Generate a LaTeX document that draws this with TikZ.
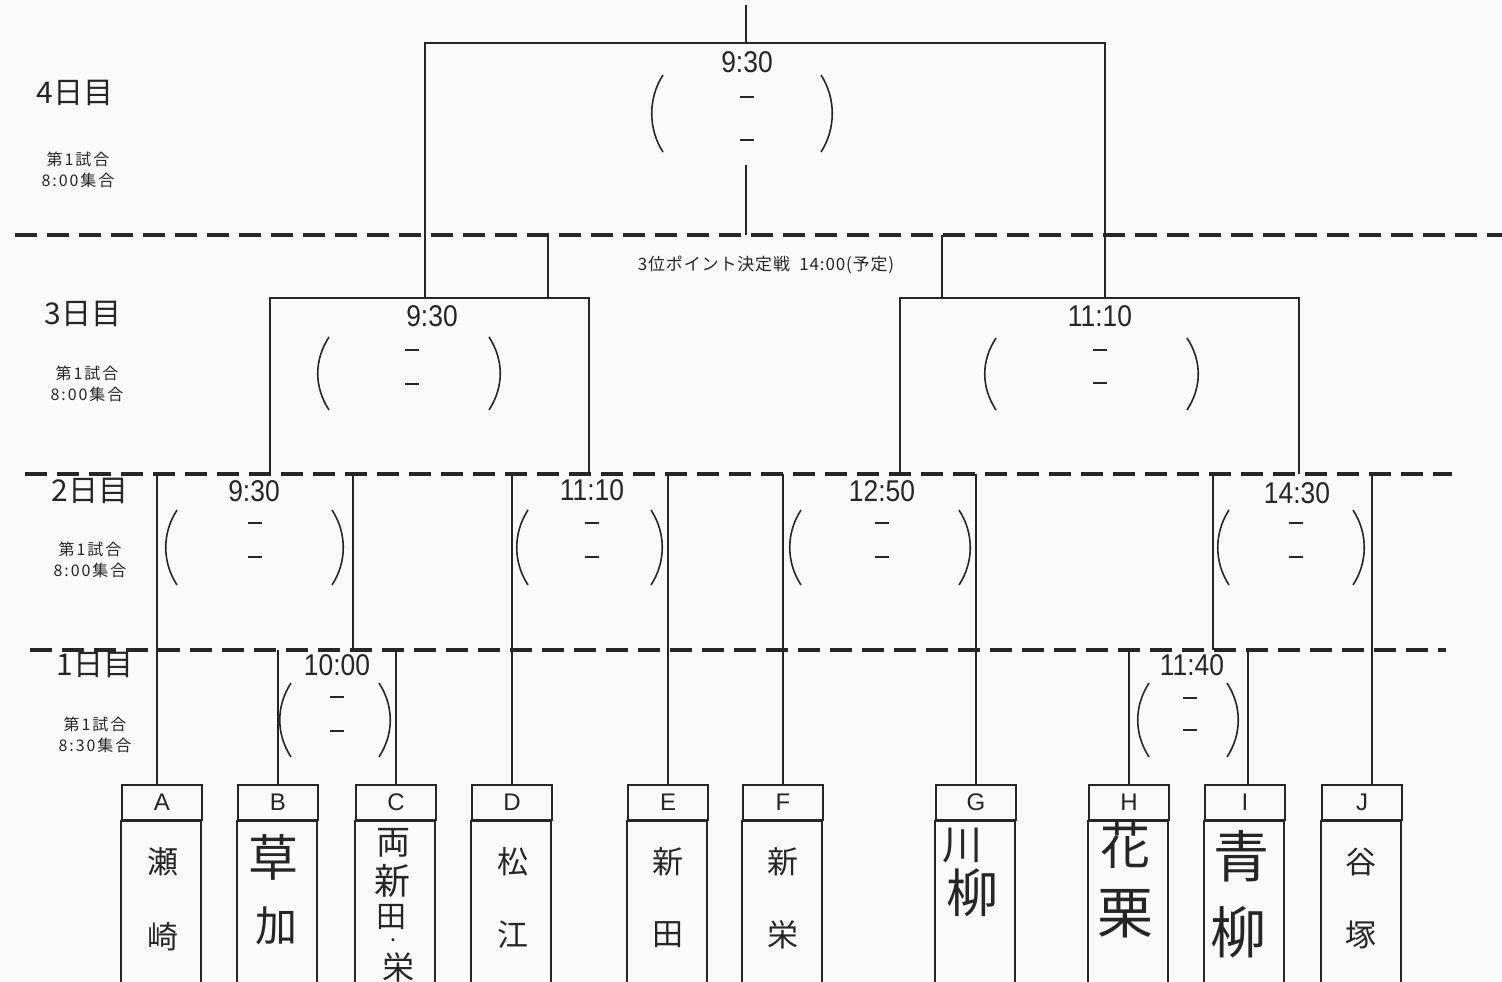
\documentclass[tikz,border=0pt]{standalone}
\usepackage{fontspec}
\setmainfont{Liberation Sans}
\newfontfamily\jp{Noto Sans CJK JP}
\newfontfamily\jpw[LetterSpace=12]{Noto Sans CJK JP}
\newfontfamily\jpt[LetterSpace=5]{Noto Sans CJK JP}
\newfontfamily\tf[FakeStretch=0.88]{Liberation Sans}
\newcommand\scorepair[7]{%
  \draw[pl] ({#2+11},#4) .. controls ({#2-4},{#4+23}) and ({#2-4},{#5-23}) .. ({#2+11},#5);
  \draw[pl] ({#3-11},#4) .. controls ({#3+4},{#4+23}) and ({#3+4},{#5-23}) .. ({#3-11},#5);
  \draw[pl] ({#1-7},#6) -- ({#1+7},#6);
  \draw[pl] ({#1-7},#7) -- ({#1+7},#7);}
\tikzset{
  ln/.style={line width=1.8pt, black!85},
  pl/.style={line width=1.6pt, black!85},
  dl/.style={line width=4.5pt, dash pattern=on 22pt off 10pt, black!85},
  hdr/.style={draw, line width=1.8pt, black!85, text=black!85, minimum width=80pt, minimum height=35pt, inner sep=0pt, font=\fontsize{24}{24}\selectfont},
  tm/.style={font=\tf\fontsize{30}{30}\selectfont, inner sep=0pt, text=black!85},
  day/.style={font=\jp\fontsize{30}{30}\selectfont, inner sep=0pt, text=black!85},
  sub/.style={font=\jpw\fontsize{16}{21}\selectfont, align=center, inner sep=0pt, text=black!85},
  nm/.style={font=\jp\fontsize{31}{31}\selectfont, inner sep=0pt, text=black!85},
  hw/.style={font=\jp\fontsize{#1}{#1}\selectfont, inner sep=0pt, text=black!85},
}
\begin{document}
\begin{tikzpicture}[x=1pt,y=-1pt]
\useasboundingbox[fill=black!2] (0,0) rectangle (1502,982);

% day labels
\node[day] (d4) at (75,93) {4日目};
\node[sub] (s4) at (78,170) {第1試合\\8:00集合};
\node[day] (d3) at (83,314) {3日目};
\node[sub] (s3) at (87,384) {第1試合\\8:00集合};
\node[day] (d2) at (90,491) {2日目};
\node[sub] (s2) at (90,560) {第1試合\\8:00集合};
\node[day] (d1) at (95,665) {1日目};
\node[sub] (s1) at (95,735) {第1試合\\8:30集合};

% team boxes
\foreach \n/\x in {A/162,B/278,C/396,D/512,E/668,F/783,G/976,H/1129,I/1245,J/1362}{
  \node[hdr] (\n) at (\x,802.5) {\n};
  \draw[ln] (\n.south west) rectangle ++(80,180);
}
% names
\node[nm] (nA1) at (163,862) {瀬};
\node[nm] (nA2) at (163,937) {崎};
\node[hw=50] (nB1) at (273,857) {草};
\node[hw=42] (nB2) at (276,926) {加};
\node[hw=34] (nC1) at (393,843) {両};
\node[hw=36] (nC2) at (392,881) {新};
\node[hw=30] (nC3) at (391,917) {田};
\node[hw=14] (nC4) at (393,942) {・};
\node[hw=32] (nC5) at (398,967) {栄};
\node[nm] (nD1) at (513,862) {松};
\node[nm] (nD2) at (513,935) {江};
\node[nm] (nE1) at (668,862) {新};
\node[nm] (nE2) at (668,935) {田};
\node[nm] (nF1) at (783,862) {新};
\node[nm] (nF2) at (783,935) {栄};
\node[hw=40] (nG1) at (962,845) {川};
\node[hw=52] (nG2) at (972,893) {柳};
\node[hw=50] (nH1) at (1125,845) {花};
\node[hw=56] (nH2) at (1125,914) {栗};
\node[hw=56] (nI1) at (1241,856) {青};
\node[hw=56] (nI2) at (1238,932) {柳};
\node[nm] (nJ1) at (1361,862) {谷};
\node[nm] (nJ2) at (1361,935) {塚};

% rows
\coordinate (r1) at (0,650);
\coordinate (r2) at (0,474);
\coordinate (r3) at (0,298);
\coordinate (r34) at (0,235);
\coordinate (r4) at (0,43);

% team line feet
\coordinate (fA) at ([xshift=-5pt]A.north);
\coordinate (fI) at ([xshift=3pt]I.north);
\coordinate (fJ) at ([xshift=10pt]J.north);

% day 1 (horizontal joins lie on the dashed lines)
\coordinate (wBC) at (353,650);
\coordinate (wHI) at (1213,650);
\draw[ln] (B.north) -- (B.north |- r1);
\draw[ln] (C.north) -- (C.north |- r1);
\draw[ln] (H.north) -- (H.north |- r1);
\draw[ln] (fI) -- (fI |- r1);
\draw[ln] (wBC) -- (wBC |- r2);
\draw[ln] (wHI) -- (wHI |- r2);

% day 2
\draw[ln] (fA) -- (fA |- r2);
\draw[ln] (D.north) -- (D.north |- r2);
\draw[ln] (E.north) -- (E.north |- r2);
\draw[ln] (F.north) -- (F.north |- r2);
\draw[ln] (G.north) -- (G.north |- r2);
\draw[ln] (fJ) -- (fJ |- r2);
\coordinate (w1) at (270,474);
\coordinate (w2) at (589,474);
\coordinate (w3) at (900,474);
\coordinate (w4) at (1299,474);

% day 3
\draw[ln] (w1) -- (w1 |- r3) -| (w2);
\draw[ln] (w3) -- (w3 |- r3) -| (w4);
\coordinate (wL) at (425,298);
\coordinate (wR) at (1105,298);
\coordinate (t1) at (548,298);
\coordinate (t2) at (942,298);
\coordinate (tc) at (746,165);
\draw[ln] (t1) -- (t1 |- r34);
\draw[ln] (t2) -- (t2 |- r34);
\draw[ln] (tc |- r34) -- (tc);

% final
\coordinate (champ) at (746,5);
\draw[ln] (wL) -- (wL |- r4) -| (wR);
\draw[ln] (champ |- r4) -- (champ);

% dashed day separators
\draw[dl] (15,235) -- (1502,235);
\draw[dl] (25,474) -- (1452,474);
\draw[dl] (30,650) -- (1446,650);

% times
\node[tm] (tF) at (747,62) {9:30};
\node[tm] (t3a) at (432,316) {9:30};
\node[tm] (t3b) at (1100,316) {11:10};
\node[tm] (t2a) at (254,491) {9:30};
\node[tm] (t2b) at (592,490) {11:10};
\node[tm] (t2c) at (882,491) {12:50};
\node[tm] (t2d) at (1297,493) {14:30};
\node[tm] (t1a) at (337,665) {10:00};
\node[tm] (t1b) at (1192,665) {11:40};

% third place label
\node[font=\jpt\fontsize{17}{17}\selectfont, inner sep=0pt, text=black!85] (third) at (766,265) {3位ポイント決定戦\ \ 14:00(予定)};

% score placeholders
\scorepair{747}{652}{832}{75}{152}{97}{140}
\scorepair{412}{318}{500}{337}{410}{350}{384}
\scorepair{1100}{985}{1198}{338}{410}{350}{383}
\scorepair{255}{166}{343}{510}{585}{523}{557}
\scorepair{592}{517}{662}{510}{585}{523}{557}
\scorepair{882}{790}{970}{510}{585}{523}{557}
\scorepair{1296}{1218}{1364}{510}{585}{523}{557}
\scorepair{337}{280}{390}{683}{757}{697}{731}
\scorepair{1190}{1138}{1238}{683}{757}{698}{730}
\end{tikzpicture}
\end{document}
